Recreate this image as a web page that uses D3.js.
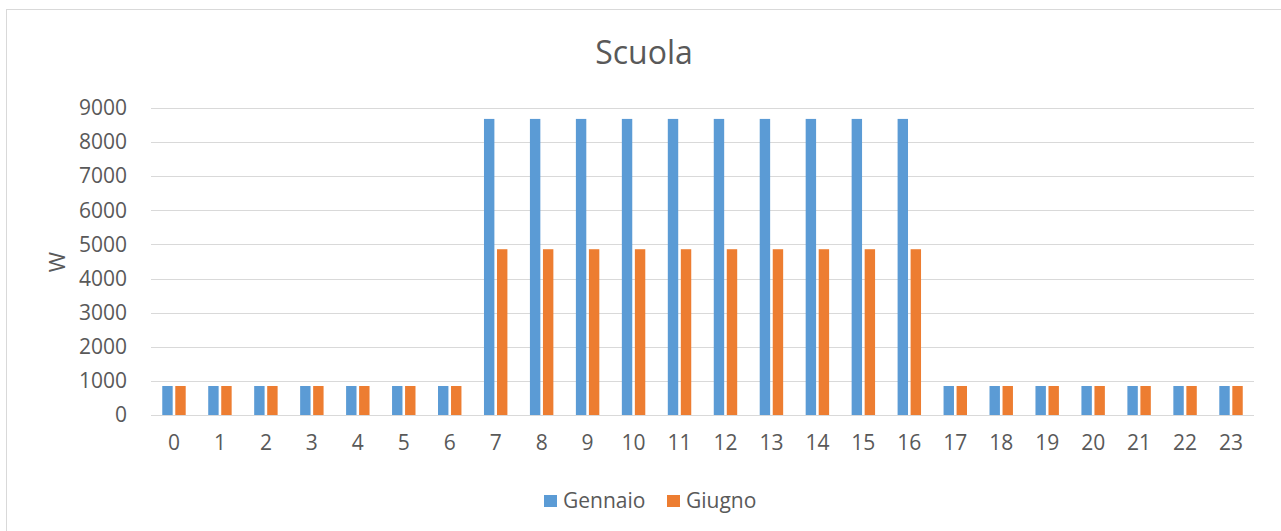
<!DOCTYPE html>
<html><head><meta charset="utf-8">
<script src="https://cdn.jsdelivr.net/npm/d3@7"></script>
<style>body{margin:0;background:#fff}svg{display:block;font-family:"Open Sans",sans-serif}</style>
</head><body><svg id="c" width="1281" height="531"></svg>
<script>
const hours = ["0","1","2","3","4","5","6","7","8","9","10","11","12","13","14","15","16","17","18","19","20","21","22","23"];
const gennaio = [850,850,850,850,850,850,850,8680,8680,8680,8680,8680,8680,8680,8680,8680,8680,850,850,850,850,850,850,850];
const giugno  = [850,850,850,850,850,850,850,4860,4860,4860,4860,4860,4860,4860,4860,4860,4860,850,850,850,850,850,850,850];
const seriesNames = ["Gennaio","Giugno"];
const colors = ["#5B9BD5","#ED7D31"];
const yTicks = [0,1000,2000,3000,4000,5000,6000,7000,8000,9000];

const svg = d3.select("#c");
svg.append("rect").attr("x",6.5).attr("y",9.5).attr("width",1290).attr("height",540)
  .attr("fill","#fff").attr("stroke","#d9d9d9").attr("stroke-width",1);

const L=151,R=1254,T=108,B=415;
const x = d3.scaleBand().domain(hours).range([L,R]).paddingInner(0.49).paddingOuter(0.245);
const y = d3.scaleLinear().domain([0,9000]).range([B,T]);
const sub = d3.scaleBand().domain(seriesNames).range([0,x.bandwidth()]).paddingInner(0.2);

const g = svg.append("g");
g.selectAll("line.grid").data(yTicks).join("line")
  .attr("x1",L).attr("x2",R).attr("y1",d=>Math.round(y(d))+0.5).attr("y2",d=>Math.round(y(d))+0.5)
  .attr("stroke","#d9d9d9").attr("stroke-width",1);

const yAxis = d3.axisLeft(y).tickValues(yTicks).tickFormat(d3.format("d")).tickSize(0).tickPadding(24);
const ya = svg.append("g").attr("transform",`translate(${L},0)`).call(yAxis);
ya.select(".domain").remove();
ya.selectAll("text").attr("fill","#595959").style("font-size","21px").style("font-family","Open Sans");

const xAxis = d3.axisBottom(x).tickSize(0).tickPadding(20);
const xa = svg.append("g").attr("transform",`translate(0,${B})`).call(xAxis);
xa.select(".domain").remove();
xa.selectAll("text").attr("fill","#595959").style("font-size","21px").style("font-family","Open Sans");

const data = [gennaio, giugno];
data.forEach((vals,si)=>{
  svg.append("g").selectAll("rect").data(vals).join("rect")
    .attr("x",(d,i)=>x(hours[i])+sub(seriesNames[si]))
    .attr("width",sub.bandwidth())
    .attr("y",d=>y(d)).attr("height",d=>B-y(d))
    .attr("fill",colors[si]);
});

svg.append("text").attr("x",644).attr("y",64).attr("text-anchor","middle")
  .attr("fill","#595959").style("font-size","32px").text("Scuola");

svg.append("text").attr("transform","translate(65,262) rotate(-90)").attr("text-anchor","middle")
  .attr("fill","#595959").style("font-size","22px").text("W");

const lg = svg.append("g");
const legX = [544,667];
seriesNames.forEach((n,i)=>{
  lg.append("rect").attr("x",legX[i]).attr("y",495).attr("width",13).attr("height",12).attr("fill",colors[i]);
  lg.append("text").attr("x",legX[i]+19).attr("y",508).attr("fill","#595959").style("font-size","21px").text(n);
});
</script></body></html>
